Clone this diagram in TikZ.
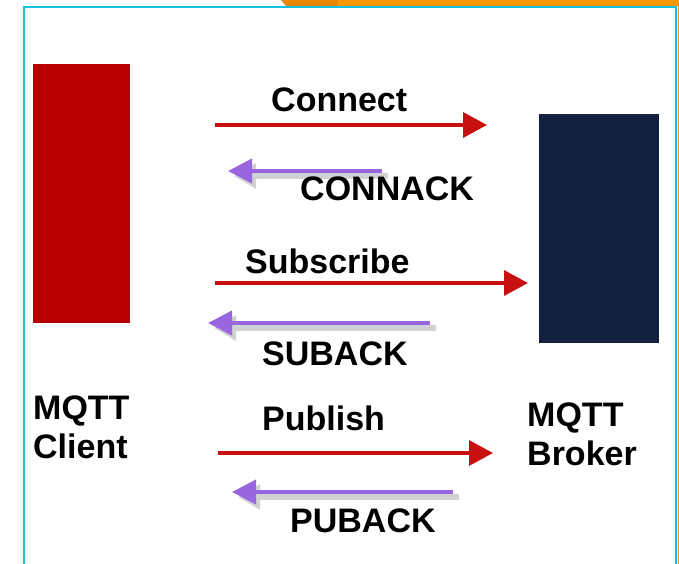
\documentclass[tikz,border=0pt]{standalone}
\usepackage{fontspec}
\setmainfont{Liberation Sans}
\usetikzlibrary{positioning, arrows.meta}

\definecolor{clientred}{RGB}{184,0,0}
\definecolor{brokernavy}{RGB}{19,33,63}
\definecolor{msgred}{RGB}{200,16,16}
\definecolor{ackpurple}{RGB}{152,102,222}
\definecolor{framecyan}{RGB}{24,192,222}
\definecolor{taborange}{RGB}{246,150,0}
\definecolor{tabdark}{RGB}{232,136,0}

\begin{document}
\begin{tikzpicture}[x=1pt, y=-1pt,
    lbl/.style={font=\fontsize{34}{39}\selectfont\bfseries, inner sep=0pt, anchor=base west},
    party/.style={inner sep=0pt, anchor=north west},
    msg/.style={draw=msgred, line width=3.5pt, -{Triangle[length=24pt, width=25pt]}},
    ack/.style={draw=ackpurple, line width=4pt, -{Triangle[length=24pt, width=24pt]}},
    ackshade/.style={draw=black!18, line width=6pt, -{Triangle[length=22pt, width=24pt]}}]
        \useasboundingbox (0,0) rectangle (679,564);

        % Frame and tab at the top
        \fill[tabdark] (281,0) -- (338,0) -- (338,6) -- (286,6) -- cycle;
        \fill[taborange] (338,0) -- (679,0) -- (679,564) -- (678,564) -- (678,6) -- (338,6) -- cycle;
        \draw[framecyan, line width=2pt] (24,564) -- (24,7) -- (676,7) -- (676,564);

        % Client and broker
        \node[party, fill=clientred, minimum width=97pt, minimum height=259pt] (client) at (33,64) {};
        \node[party, fill=brokernavy, minimum width=120pt, minimum height=229pt] (broker) at (539,114) {};

        \node[lbl] (clientA) at (33,419) {MQTT};
        \node[lbl] (clientB) at (33,458) {Client};
        \node[lbl] (brokerA) at (527,426) {MQTT};
        \node[lbl] (brokerB) at (527,465) {Broker};

        % Arrow ends
        \coordinate (conS) at (215,125);   \coordinate (conE) at (487,125);
        \coordinate (cackS) at (382,171);  \coordinate (cackE) at (228,171);
        \coordinate (subS) at (215,283);   \coordinate (subE) at (528,283);
        \coordinate (sackS) at (430,323);  \coordinate (sackE) at (208,323);
        \coordinate (pubS) at (218,453);   \coordinate (pubE) at (493,453);
        \coordinate (packS) at (453,492);  \coordinate (packE) at (232,492);

        % Shadows under the acknowledgements
        \draw[ackshade] ([xshift=6pt, yshift=-5pt]cackS) -- ([xshift=6pt, yshift=-5pt]cackE);
        \draw[ackshade] ([xshift=6pt, yshift=-5pt]sackS) -- ([xshift=6pt, yshift=-5pt]sackE);
        \draw[ackshade] ([xshift=6pt, yshift=-5pt]packS) -- ([xshift=6pt, yshift=-5pt]packE);

        \path
        % Connect / CONNACK
        (conS) edge[msg] (conE)
        (cackS) edge[ack] (cackE)
        % Subscribe / SUBACK
        (subS) edge[msg] (subE)
        (sackS) edge[ack] (sackE)
        % Publish / PUBACK
        (pubS) edge[msg] (pubE)
        (packS) edge[ack] (packE);

        \node[lbl] (connect) at (271,112) {Connect};
        \node[lbl] (connack) at (300,200) {CONNACK};
        \node[lbl] (subscribe) at (245,273) {Subscribe};
        \node[lbl] (suback) at (262,365) {SUBACK};
        \node[lbl] (publish) at (262,430) {Publish};
        \node[lbl] (puback) at (290,532) {PUBACK};
    \end{tikzpicture}
\end{document}
